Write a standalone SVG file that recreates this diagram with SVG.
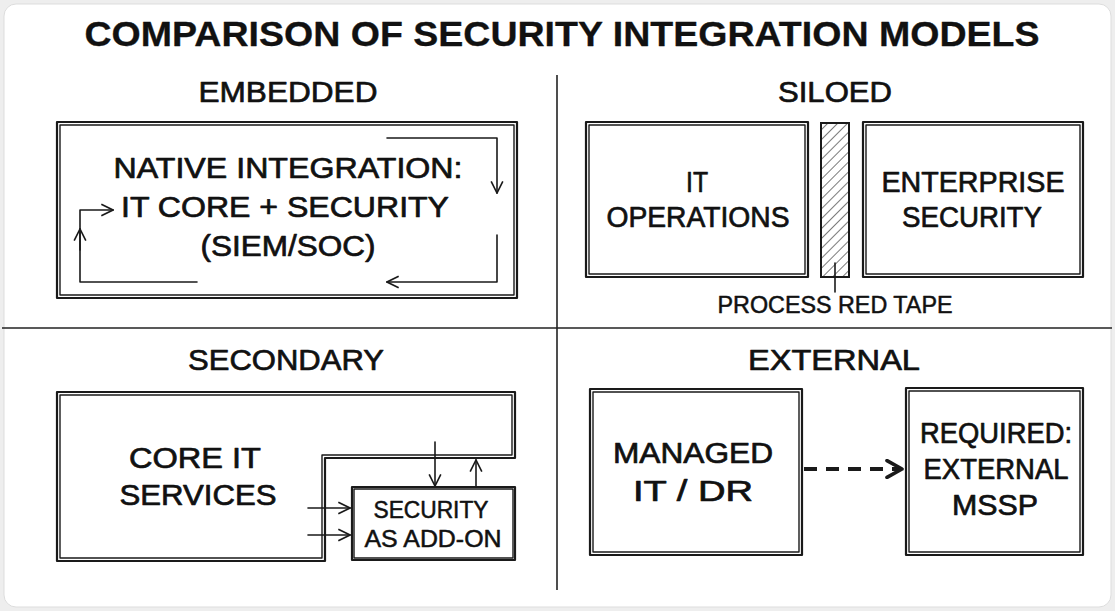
<svg xmlns="http://www.w3.org/2000/svg" width="1115" height="611" viewBox="0 0 1115 611">
  <defs>
    <style>
      .t{font-family:"Liberation Sans",Arial,sans-serif;fill:#111;text-anchor:middle;stroke:#111;stroke-width:0.7;stroke-linejoin:round}
      .title{font-size:35px;font-weight:bold;stroke-width:0.3}
      .hd{font-size:30px}
      .bx{font-size:29px}
      .sm{font-size:23px;stroke-width:0.5}
      .o1{fill:none;stroke:#1a1a1a;stroke-width:2.2;stroke-linejoin:round}
      .o2{fill:none;stroke:#1a1a1a;stroke-width:1.4;stroke-linejoin:round}
      .ln{fill:none;stroke:#1a1a1a;stroke-width:1.6;stroke-linecap:round;stroke-linejoin:round}
      .div{fill:none;stroke:#222;stroke-width:1.6}
    </style>
    <marker id="ah" viewBox="0 0 12 12" refX="11" refY="6" markerWidth="14" markerHeight="14" markerUnits="userSpaceOnUse" orient="auto">
      <path d="M1,1 L11,6 L1,11" fill="none" stroke="#1a1a1a" stroke-width="1.4"/>
    </marker>
    <marker id="ahb" viewBox="0 0 12 12" refX="10" refY="6" markerWidth="20" markerHeight="20" markerUnits="userSpaceOnUse" orient="auto">
      <path d="M1,1 L10,6 L1,11" fill="none" stroke="#1a1a1a" stroke-width="2.2" stroke-linecap="round" stroke-linejoin="round"/>
    </marker>
    <pattern id="hatch" width="7" height="7" patternUnits="userSpaceOnUse" patternTransform="rotate(45)">
      <rect width="7" height="7" fill="#fff"/>
      <line x1="0" y1="0" x2="0" y2="7" stroke="#222" stroke-width="1.2"/>
    </pattern>
  </defs>

  <rect x="0" y="0" width="1115" height="611" fill="#eeeeee"/>
  <rect x="4" y="4" width="1107" height="603" rx="12" fill="#ffffff" stroke="#dddddd" stroke-width="1"/>

  <text class="t title" x="562" y="46" textLength="955" lengthAdjust="spacingAndGlyphs">COMPARISON OF SECURITY INTEGRATION MODELS</text>

  <g id="dividers">
    <path class="div" d="M557,75 L557,590"/>
    <path class="div" d="M2,328 L1112,328"/>
  </g>

  <g id="headers">
    <text class="t hd" x="288" y="102" textLength="179" lengthAdjust="spacingAndGlyphs">EMBEDDED</text>
    <text class="t hd" x="835" y="102" textLength="114" lengthAdjust="spacingAndGlyphs">SILOED</text>
    <text class="t hd" x="286" y="370" textLength="196" lengthAdjust="spacingAndGlyphs">SECONDARY</text>
    <text class="t hd" x="834" y="370" textLength="172" lengthAdjust="spacingAndGlyphs">EXTERNAL</text>
  </g>

  <!-- EMBEDDED -->
  <g id="embedded">
    <rect class="o1" x="57" y="122" width="460" height="176"/>
    <rect class="o2" x="60" y="125" width="454" height="170"/>
    <text class="t bx" x="288" y="178" textLength="349" lengthAdjust="spacingAndGlyphs">NATIVE INTEGRATION:</text>
    <text class="t bx" x="285" y="217" textLength="328" lengthAdjust="spacingAndGlyphs">IT CORE + SECURITY</text>
    <text class="t bx" x="288" y="256" textLength="175" lengthAdjust="spacingAndGlyphs">(SIEM/SOC)</text>
  </g>

  <!-- SILOED -->
  <g id="it-operations">
    <rect class="o1" x="586" y="122" width="222" height="155"/>
    <rect class="o2" x="589" y="125" width="216" height="149"/>
    <text class="t bx" x="697" y="192" textLength="22" lengthAdjust="spacingAndGlyphs">IT</text>
    <text class="t bx" x="698" y="227" textLength="183" lengthAdjust="spacingAndGlyphs">OPERATIONS</text>
  </g>
  <g id="red-tape">
    <rect x="821" y="123" width="28" height="154" fill="url(#hatch)" stroke="#1a1a1a" stroke-width="2"/>
    <text class="t sm" x="835" y="313" textLength="235" lengthAdjust="spacingAndGlyphs">PROCESS RED TAPE</text>
  </g>
  <g id="enterprise-security">
    <rect class="o1" x="863" y="122" width="220" height="155"/>
    <rect class="o2" x="866" y="125" width="214" height="149"/>
    <text class="t bx" x="973" y="192" textLength="183" lengthAdjust="spacingAndGlyphs">ENTERPRISE</text>
    <text class="t bx" x="972" y="227" textLength="140" lengthAdjust="spacingAndGlyphs">SECURITY</text>
  </g>

  <!-- SECONDARY -->
  <g id="core-it">
    <path class="o1" d="M57,392 L515,392 L515,458 L325,458 L325,561 L57,561 Z"/>
    <path class="o2" d="M60,395 L512,395 L512,455 L322,455 L322,558 L60,558 Z"/>
    <text class="t bx" x="195" y="468" textLength="132" lengthAdjust="spacingAndGlyphs">CORE IT</text>
    <text class="t bx" x="198" y="505" textLength="157" lengthAdjust="spacingAndGlyphs">SERVICES</text>
  </g>
  <g id="security-addon">
    <rect class="o1" x="352" y="487" width="163" height="73"/>
    <rect class="o2" x="354" y="489" width="159" height="69"/>
    <text class="t sm" x="431" y="518" textLength="115" lengthAdjust="spacingAndGlyphs">SECURITY</text>
    <text class="t sm" x="433" y="547" textLength="137" lengthAdjust="spacingAndGlyphs">AS ADD-ON</text>
  </g>

  <!-- EXTERNAL -->
  <g id="managed-it">
    <rect class="o1" x="590" y="389" width="212" height="166"/>
    <rect class="o2" x="593" y="392" width="206" height="160"/>
    <text class="t bx" x="693" y="463" textLength="160" lengthAdjust="spacingAndGlyphs">MANAGED</text>
    <text class="t bx" x="693" y="501" textLength="120" lengthAdjust="spacingAndGlyphs">IT / DR</text>
  </g>
  <g id="external-mssp">
    <rect class="o1" x="906" y="388" width="177" height="167"/>
    <rect class="o2" x="909" y="391" width="171" height="161"/>
    <text class="t bx" x="996" y="443" textLength="152" lengthAdjust="spacingAndGlyphs">REQUIRED:</text>
    <text class="t bx" x="996" y="479" textLength="145" lengthAdjust="spacingAndGlyphs">EXTERNAL</text>
    <text class="t bx" x="995" y="515" textLength="86" lengthAdjust="spacingAndGlyphs">MSSP</text>
  </g>

  <g id="connectors">
    <!-- embedded cycle -->
    <path class="ln" d="M387,138 L497,138 L497,193" marker-end="url(#ah)"/>
    <path class="ln" d="M497,235 L497,282 L387,282" marker-end="url(#ah)"/>
    <path class="ln" d="M197,282 L80,282 L80,210 L113,210" marker-end="url(#ah)"/>
    <path class="ln" d="M80,250 L80,229" marker-end="url(#ah)"/>
    <!-- red tape tick -->
    <path class="ln" d="M835,263 L835,292"/>
    <!-- secondary -->
    <path class="ln" d="M308,508 L350,508" marker-end="url(#ah)"/>
    <path class="ln" d="M308,535 L350,535" marker-end="url(#ah)"/>
    <path class="ln" d="M435,442 L435,486" marker-end="url(#ah)"/>
    <path class="ln" d="M476,487 L476,460" marker-end="url(#ah)"/>
    <!-- external -->
    <path d="M804,469 L902,469" fill="none" stroke="#1a1a1a" stroke-width="4" stroke-dasharray="13,9" marker-end="url(#ahb)"/>
  </g>
</svg>
